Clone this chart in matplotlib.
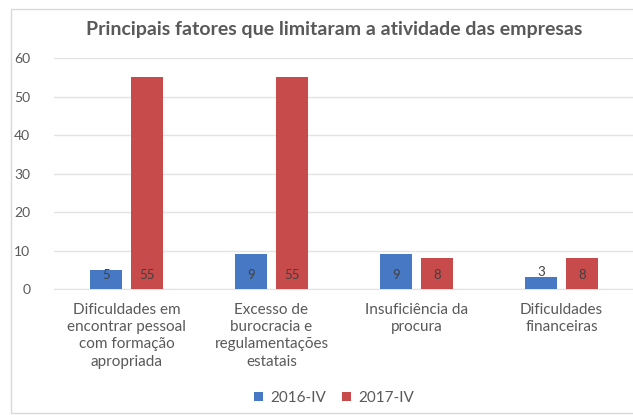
import numpy as np
import matplotlib
matplotlib.use('Agg')
import matplotlib.pyplot as plt
from matplotlib.patches import Rectangle

# data
categorias = ['Dificuldades em\nencontrar pessoal\ncom formação\napropriada',
              'Excesso de\nburocracia e\nregulamentações\nestatais',
              'Insuficiência da\nprocura',
              'Dificuldades\nfinanceiras']
serie_2016 = [5, 9, 9, 3]
serie_2017 = [55, 55, 8, 8]
nomes = ['2016-IV', '2017-IV']
titulo = 'Principais fatores que limitaram a atividade das empresas'

azul = '#4678C4'
vermelho = '#C74B4A'
cinza = '#595959'

plt.rcParams['font.family'] = ['Lato', 'DejaVu Sans']

fig = plt.figure(figsize=(6.33, 4.15), dpi=100)
fig.patches.append(Rectangle((11/633, 2/415), 1.2, 404/415, transform=fig.transFigure,
                             fill=False, edgecolor='#D9D9D9', linewidth=1.0))
ax = fig.add_axes([54/633, 126/415, 580/633, 231/415])

x = np.arange(len(categorias))
w = 0.22
off = 0.141
b1 = ax.bar(x - off, serie_2016, w, color=azul, label=nomes[0], zorder=3)
b2 = ax.bar(x + off, serie_2017, w, color=vermelho, label=nomes[1], zorder=3)

# data labels (inside base, or above if bar too short)
for bars, vals in [(b1, serie_2016), (b2, serie_2017)]:
    for r, v in zip(bars, vals):
        cx = r.get_x() + r.get_width() / 2
        if v >= 5:
            ax.text(cx, 3.6, str(v), ha='center', va='center', fontsize=9.5, color='#404040', zorder=4)
        else:
            ax.text(cx, v + 1.4, str(v), ha='center', va='center', fontsize=9.5, color='#404040', zorder=4)

ax.set_xlim(-0.5, 3.5)
ax.set_ylim(0, 60)
ax.set_yticks(range(0, 61, 10))
ax.yaxis.grid(True, color='#E3E3E3', linewidth=1.0, zorder=0)
ax.set_axisbelow(True)
for s in ['top', 'right', 'left']:
    ax.spines[s].set_visible(False)
ax.spines['bottom'].set_color('#E3E3E3')
ax.tick_params(axis='both', length=0, colors=cinza, labelsize=10)
ax.tick_params(axis='y', pad=17)
ax.set_xticks(x)
ax.set_xticklabels(categorias, linespacing=1.3, fontsize=11)
ax.tick_params(axis='x', pad=10)

fig.text(334/633, 1 - 30/415, titulo, ha='center', va='center', fontsize=14,
         color=cinza, fontweight='bold')

fig.legend(loc='center', bbox_to_anchor=(334/633, 1 - 398/415), ncol=2, frameon=False,
           fontsize=11, handlelength=0.6, handleheight=0.6, handletextpad=0.5,
           columnspacing=1.0, labelcolor=cinza)

fig.savefig('out.png', dpi=100)
